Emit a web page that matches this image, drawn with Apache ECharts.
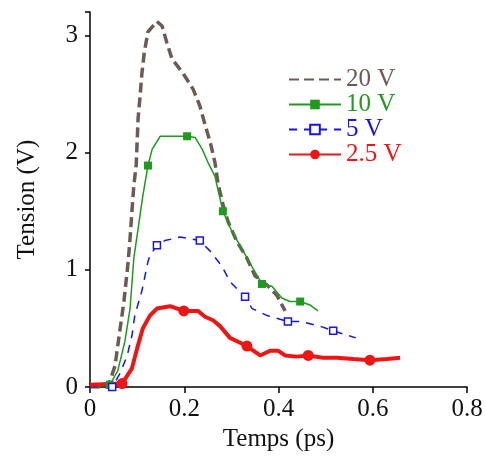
<!DOCTYPE html>
<html>
<head>
<meta charset="utf-8">
<script src="https://cdn.jsdelivr.net/npm/echarts@6/dist/echarts.min.js"></script>
<style>html,body{margin:0;padding:0;background:#fff}#c{width:486px;height:457px}</style>
</head>
<body>
<div id="c"></div>
<script>
// ---- data (time in ps, tension in V) ----
const xTicks = [0, 0.2, 0.4, 0.6, 0.8];
const yTicks = [0, 1, 2, 3];
const names = ['20 V', '10 V', '5 V', '2.5 V'];

const pts20 = [[0,0],[0.038,0],[0.053,0.18],[0.064,0.50],[0.072,0.73],[0.081,1.07],[0.085,1.27],[0.089,1.50],[0.093,1.72],[0.098,1.89],[0.100,2.09],[0.102,2.29],[0.106,2.47],[0.110,2.67],[0.115,2.85],[0.123,3.03],[0.142,3.12],[0.153,3.08],[0.163,2.94],[0.174,2.80],[0.197,2.68],[0.219,2.54],[0.233,2.40],[0.244,2.24],[0.255,2.09],[0.265,1.92],[0.272,1.73],[0.282,1.56],[0.293,1.41],[0.312,1.24],[0.333,1.10],[0.350,0.95],[0.376,0.87],[0.397,0.78],[0.414,0.65]];

const pts10 = [[0,0],[0.042,0.02],[0.059,0.14],[0.074,0.39],[0.085,0.67],[0.093,1.10],[0.102,1.35],[0.112,1.63],[0.123,1.89],[0.132,2.03],[0.149,2.14],[0.206,2.14],[0.223,2.13],[0.238,2.03],[0.250,1.92],[0.265,1.80],[0.282,1.50],[0.301,1.33],[0.325,1.16],[0.346,1.01],[0.365,0.88],[0.386,0.86],[0.407,0.76],[0.424,0.73],[0.446,0.73],[0.467,0.70],[0.484,0.65]];
const marks10 = [1, 8, 11, 16, 20, 24];

const pts5 = [[0,0],[0.047,0],[0.064,0.12],[0.079,0.27],[0.089,0.44],[0.095,0.61],[0.110,0.82],[0.123,1.07],[0.127,1.12],[0.142,1.21],[0.159,1.25],[0.191,1.28],[0.233,1.25],[0.255,1.16],[0.280,1.03],[0.297,0.90],[0.329,0.77],[0.344,0.67],[0.376,0.61],[0.420,0.56],[0.446,0.56],[0.488,0.52],[0.516,0.48],[0.564,0.42]];
const marks5 = [1, 9, 12, 16, 19, 22];

const pts25 = [[0,0.02],[0.068,0.03],[0.089,0.16],[0.100,0.33],[0.112,0.50],[0.127,0.61],[0.142,0.67],[0.170,0.69],[0.199,0.65],[0.229,0.65],[0.244,0.60],[0.261,0.57],[0.276,0.52],[0.297,0.42],[0.333,0.35],[0.361,0.27],[0.382,0.31],[0.399,0.31],[0.414,0.27],[0.439,0.26],[0.463,0.27],[0.494,0.25],[0.524,0.25],[0.558,0.24],[0.594,0.23],[0.630,0.24],[0.658,0.25]];
const marks25 = [1, 8, 14, 20, 24];

const colors = ['#6e5a55', '#1f9a1f', '#1515f0', '#ee1515'];
const FONT = "'Liberation Serif','Times New Roman',serif";

function withMarks(pts, marks) {
  return pts.map((p, i) => marks.indexOf(i) >= 0 ? {value: p} : {value: p, symbol: 'none'});
}

const legendItems = names.map((n, i) => {
  const item = {name: n, textStyle: {color: colors[i]}};
  if (i === 0) item.itemStyle = {color: 'rgba(0,0,0,0)', borderColor: 'rgba(0,0,0,0)', borderWidth: 0, opacity: 0};
  return item;
});

const chart = echarts.init(document.getElementById('c'), null, {renderer: 'canvas'});
chart.setOption({
  animation: false,
  backgroundColor: '#fff',
  grid: {left: 90, right: 19, top: 12, bottom: 68, containLabel: false},
  legend: {
    orient: 'vertical', left: 283, top: 62, itemWidth: 52, itemHeight: 12, itemGap: 0,
    textStyle: {fontFamily: FONT, fontSize: 25, lineHeight: 25},
    data: legendItems
  },
  xAxis: {
    type: 'value', min: 0, max: 0.8, interval: 0.2,
    name: 'Temps (ps)', nameLocation: 'middle', nameGap: 36,
    nameTextStyle: {fontFamily: FONT, fontSize: 25, color: '#111'},
    axisLine: {lineStyle: {color: '#000', width: 1.5}},
    axisTick: {length: 6, lineStyle: {color: '#000', width: 1.5}},
    axisLabel: {fontFamily: FONT, fontSize: 25, color: '#111', margin: 10,
      formatter: v => xTicks.indexOf(+v.toFixed(2)) >= 0 ? String(+v.toFixed(2)) : ''},
    splitLine: {show: false}
  },
  yAxis: {
    type: 'value', min: 0, max: 3.2, interval: 1,
    name: 'Tension (V)', nameLocation: 'middle', nameGap: 50, nameRotate: 90,
    nameTextStyle: {fontFamily: FONT, fontSize: 25, color: '#111'},
    axisLine: {show: true, lineStyle: {color: '#000', width: 1.5}},
    axisTick: {show: true, length: 5, lineStyle: {color: '#000', width: 1.5}},
    axisLabel: {fontFamily: FONT, fontSize: 25, color: '#111', margin: 12,
      formatter: v => yTicks.indexOf(v) >= 0 ? String(v) : ''},
    splitLine: {show: false}
  },
  series: [
    {name: names[0], type: 'line', symbol: 'none', data: pts20,
     lineStyle: {color: colors[0], width: 3.5, type: [10, 5]}, itemStyle: {color: colors[0]}},
    {name: names[1], type: 'line', symbol: 'rect', symbolSize: 8, data: withMarks(pts10, marks10),
     lineStyle: {color: colors[1], width: 1.5}, itemStyle: {color: colors[1]}},
    {name: names[2], type: 'line', symbol: 'rect', symbolSize: 7, data: withMarks(pts5, marks5),
     lineStyle: {color: colors[2], width: 1.5, type: [8, 7]},
     itemStyle: {color: '#fff', borderColor: colors[2], borderWidth: 1.5}},
    {name: names[3], type: 'line', symbol: 'circle', symbolSize: 11, data: withMarks(pts25, marks25),
     lineStyle: {color: colors[3], width: 4}, itemStyle: {color: colors[3]}}
  ]
});
</script>
</body>
</html>
